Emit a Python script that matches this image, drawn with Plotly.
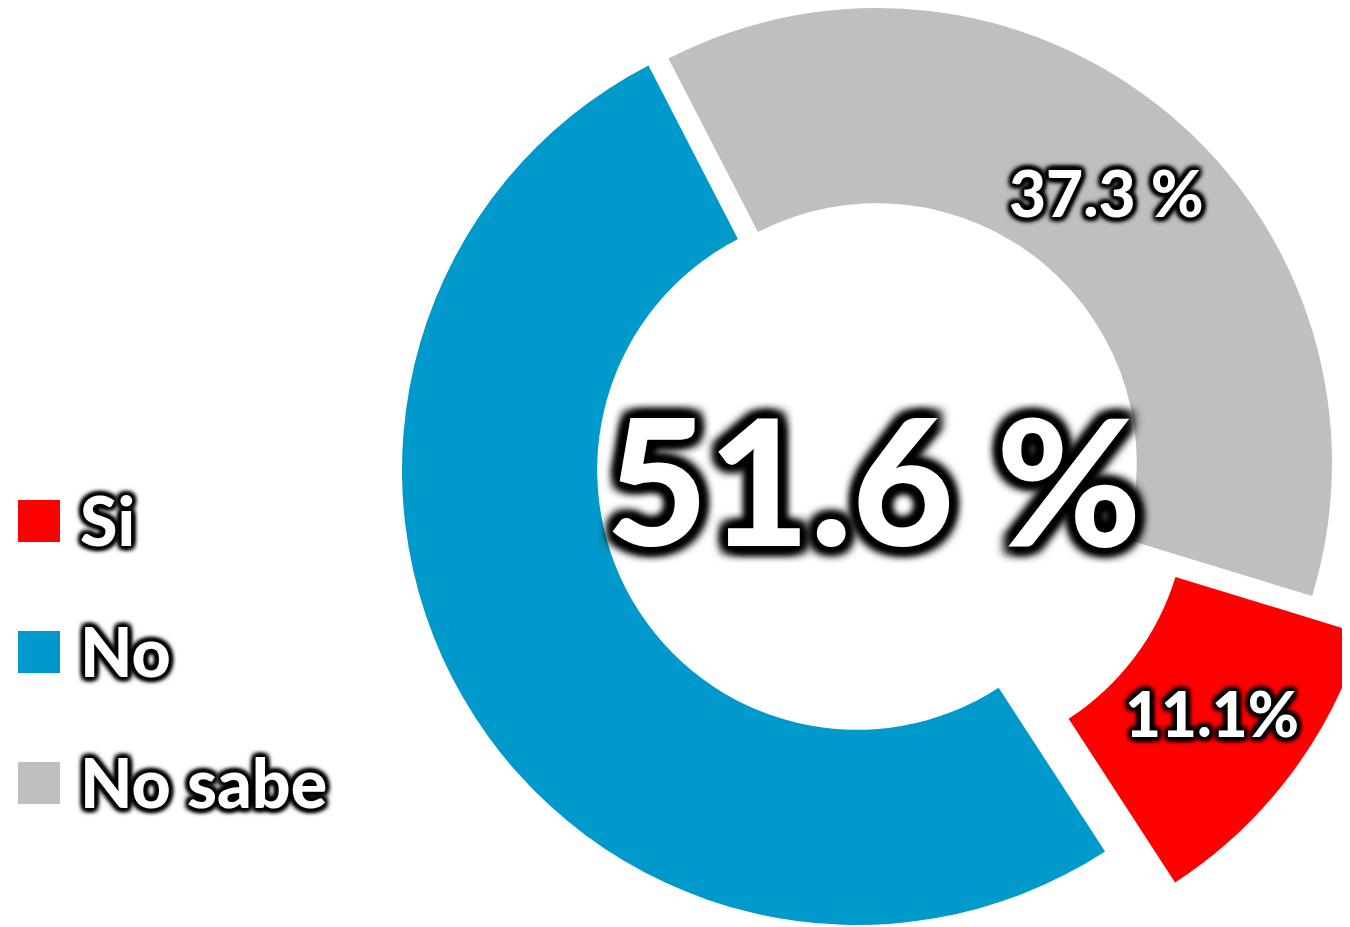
import plotly.graph_objects as go

# ---- data ----
labels = ["Si", "No", "No sabe"]
values = [11.1, 51.6, 37.3]
colors = ["#FF0000", "#0099CC", "#BFBFBF"]
value_texts = ["11.1%", "51.6 %", "37.3 %"]

# ---- canvas ----
W, H = 1390, 960
OFF = 8          # page body margin
R = 455          # outer radius in px
HOLE = 0.571
ROT = 107        # start angle of first slice (deg, clockwise from 12 o'clock)

# centres of each slice's ring (page px) – exploded slices are offset
centers = {"No": (857, 470), "No sabe": (877, 463), "Si": (927, 501)}

def px_x(x):
    return (x - OFF) / W

def px_y(y):
    return 1 - (y - OFF) / H

def domain_for(cx, cy):
    return dict(x=[max(0, px_x(cx - R)), min(1, px_x(cx + R))],
                y=[max(0, px_y(cy + R)), min(1, px_y(cy - R))])

fig = go.Figure()
TRANSP = "rgba(0,0,0,0)"
for name in ["No", "No sabe", "Si"]:
    cols = [c if l == name else TRANSP for l, c in zip(labels, colors)]
    cx, cy = centers[name]
    fig.add_trace(go.Pie(
        labels=labels, values=values, sort=False, direction="clockwise",
        rotation=ROT, hole=HOLE, textinfo="none",
        marker=dict(colors=cols, line=dict(width=0)),
        domain=domain_for(cx, cy), showlegend=False,
        hoverinfo="label+percent",
    ))

def glow(r, blur):
    parts = []
    for dx, dy in [(r, 0), (-r, 0), (0, r), (0, -r), (r, r), (-r, -r), (r, -r), (-r, r)]:
        parts.append(f"{dx}px {dy}px {blur}px #000")
    parts.append(f"0 0 {blur * 2}px #000")
    return ", ".join(parts)

glow_big = glow(7, 8)
glow_small = glow(3, 4)

FONT = "Lato"
# value labels
label_pos = {"No": (873, 478, 176, glow_big), "No sabe": (1106, 192, 64, glow_small),
             "Si": (1212, 713, 62, glow_small)}
for l, t in zip(labels, value_texts):
    x, y, s, g = label_pos[l]
    fig.add_annotation(x=px_x(x), y=px_y(y), xref="paper", yref="paper", text=t,
                       showarrow=False, xanchor="center", yanchor="middle",
                       font=dict(family=FONT, size=s, color="white", weight=900, shadow=g))

# legend (custom, large squares)
leg_y0 = [500, 631, 762]
for l, c, y0 in zip(labels, colors, leg_y0):
    fig.add_shape(type="rect", xref="paper", yref="paper",
                  x0=px_x(18), x1=px_x(60), y0=px_y(y0 + 42), y1=px_y(y0),
                  fillcolor=c, line=dict(width=0))
    fig.add_annotation(x=px_x(78), y=px_y(y0 + 19), xref="paper", yref="paper", text=l,
                       showarrow=False, xanchor="left", yanchor="middle",
                       font=dict(family=FONT, size=68, color="white", weight=900, shadow=glow_small))

fig.update_layout(width=W, height=H, margin=dict(l=0, r=0, t=0, b=0),
                  paper_bgcolor="white", plot_bgcolor="white", showlegend=False)

fig.write_html("out.html")
